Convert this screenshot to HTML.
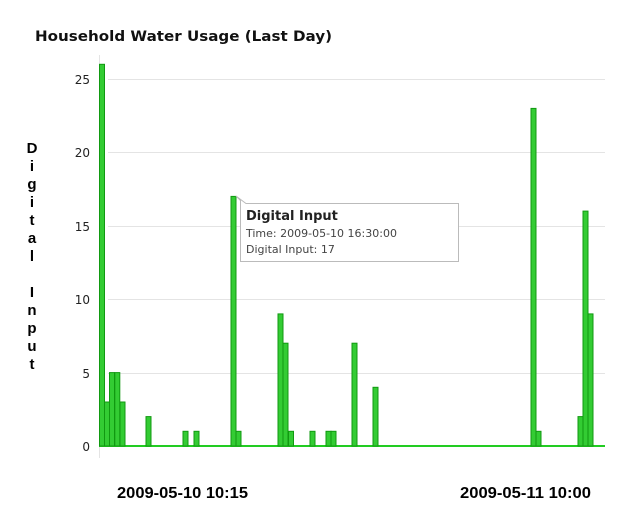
<!DOCTYPE html>
<html><head><style>
body{margin:0;background:#fff;}
svg{display:block;}
</style></head><body>
<svg width="620" height="525" xmlns="http://www.w3.org/2000/svg">
<rect width="620" height="525" fill="#fff"/>
<text x="35" y="41" font-family="Verdana, 'DejaVu Sans', sans-serif" font-weight="bold" font-size="14" fill="#111" textLength="297" lengthAdjust="spacingAndGlyphs">Household Water Usage (Last Day)</text>
<g stroke="#e4e4e4" stroke-width="1">
<line x1="108" y1="79.5" x2="605" y2="79.5"/>
<line x1="108" y1="152.5" x2="605" y2="152.5"/>
<line x1="108" y1="226.5" x2="605" y2="226.5"/>
<line x1="108" y1="299.5" x2="605" y2="299.5"/>
<line x1="108" y1="373.5" x2="605" y2="373.5"/>
<line x1="99.5" y1="55" x2="99.5" y2="458"/>
</g>
<g font-family="'DejaVu Sans', sans-serif" font-size="12" fill="#222" text-anchor="end">
<text x="90" y="84">25</text><text x="90" y="157">20</text><text x="90" y="231">15</text>
<text x="90" y="304">10</text><text x="90" y="378">5</text><text x="90" y="451">0</text>
</g>
<g font-family="'Liberation Sans', sans-serif" font-weight="bold" font-size="15" fill="#000" text-anchor="middle">
<text x="32" y="153">D</text><text x="32" y="171">i</text><text x="32" y="189">g</text><text x="32" y="207">i</text><text x="32" y="225">t</text><text x="32" y="243">a</text><text x="32" y="261">l</text>
<text x="32" y="297">I</text><text x="32" y="315">n</text><text x="32" y="333">p</text><text x="32" y="351">u</text><text x="32" y="369">t</text>
</g>
<line x1="99" y1="446" x2="605" y2="446" stroke="#22cc22" stroke-width="2"/>
<g fill="#33cc33" stroke="#119911" stroke-width="1">
<rect x="99.5" y="64.3" width="5" height="381.7"/>
<rect x="104.5" y="402" width="5" height="44"/>
<rect x="109.5" y="372.6" width="5" height="73.4"/>
<rect x="114.8" y="372.6" width="5" height="73.4"/>
<rect x="120" y="402" width="5" height="44"/>
<rect x="146" y="416.6" width="5" height="29.4"/>
<rect x="183" y="431.3" width="5" height="14.7"/>
<rect x="194" y="431.3" width="5" height="14.7"/>
<rect x="231" y="196.4" width="5" height="249.6"/>
<rect x="236" y="431.3" width="5" height="14.7"/>
<rect x="278" y="313.9" width="5" height="132.1"/>
<rect x="283" y="343.2" width="5" height="102.8"/>
<rect x="288.5" y="431.3" width="5" height="14.7"/>
<rect x="310" y="431.3" width="5" height="14.7"/>
<rect x="326" y="431.3" width="5" height="14.7"/>
<rect x="331" y="431.3" width="5" height="14.7"/>
<rect x="352" y="343.2" width="5" height="102.8"/>
<rect x="373" y="387.3" width="5" height="58.7"/>
<rect x="531" y="108.4" width="5" height="337.6"/>
<rect x="536" y="431.3" width="5" height="14.7"/>
<rect x="578" y="416.6" width="5" height="29.4"/>
<rect x="583" y="211.1" width="5" height="234.9"/>
<rect x="588" y="313.9" width="5" height="132.1"/>
</g>
<path d="M240.5 200.5 L236 196 L246 203.5 L458.5 203.5 L458.5 261.5 L240.5 261.5 Z" fill="#fff" stroke="#bbb" stroke-width="1"/>
<text x="246" y="220" font-family="Verdana, 'DejaVu Sans', sans-serif" font-weight="bold" font-size="13" fill="#222">Digital Input</text>
<text x="246" y="237" font-family="Verdana, 'DejaVu Sans', sans-serif" font-size="11" fill="#444">Time: 2009-05-10 16:30:00</text>
<text x="246" y="253" font-family="Verdana, 'DejaVu Sans', sans-serif" font-size="11" fill="#444">Digital Input: 17</text>
<g font-family="'Liberation Sans', sans-serif" font-weight="bold" font-size="16" fill="#000">
<text x="117" y="498" textLength="131" lengthAdjust="spacingAndGlyphs">2009-05-10 10:15</text>
<text x="460" y="498" textLength="131" lengthAdjust="spacingAndGlyphs">2009-05-11 10:00</text>
</g>
</svg>
</body></html>
